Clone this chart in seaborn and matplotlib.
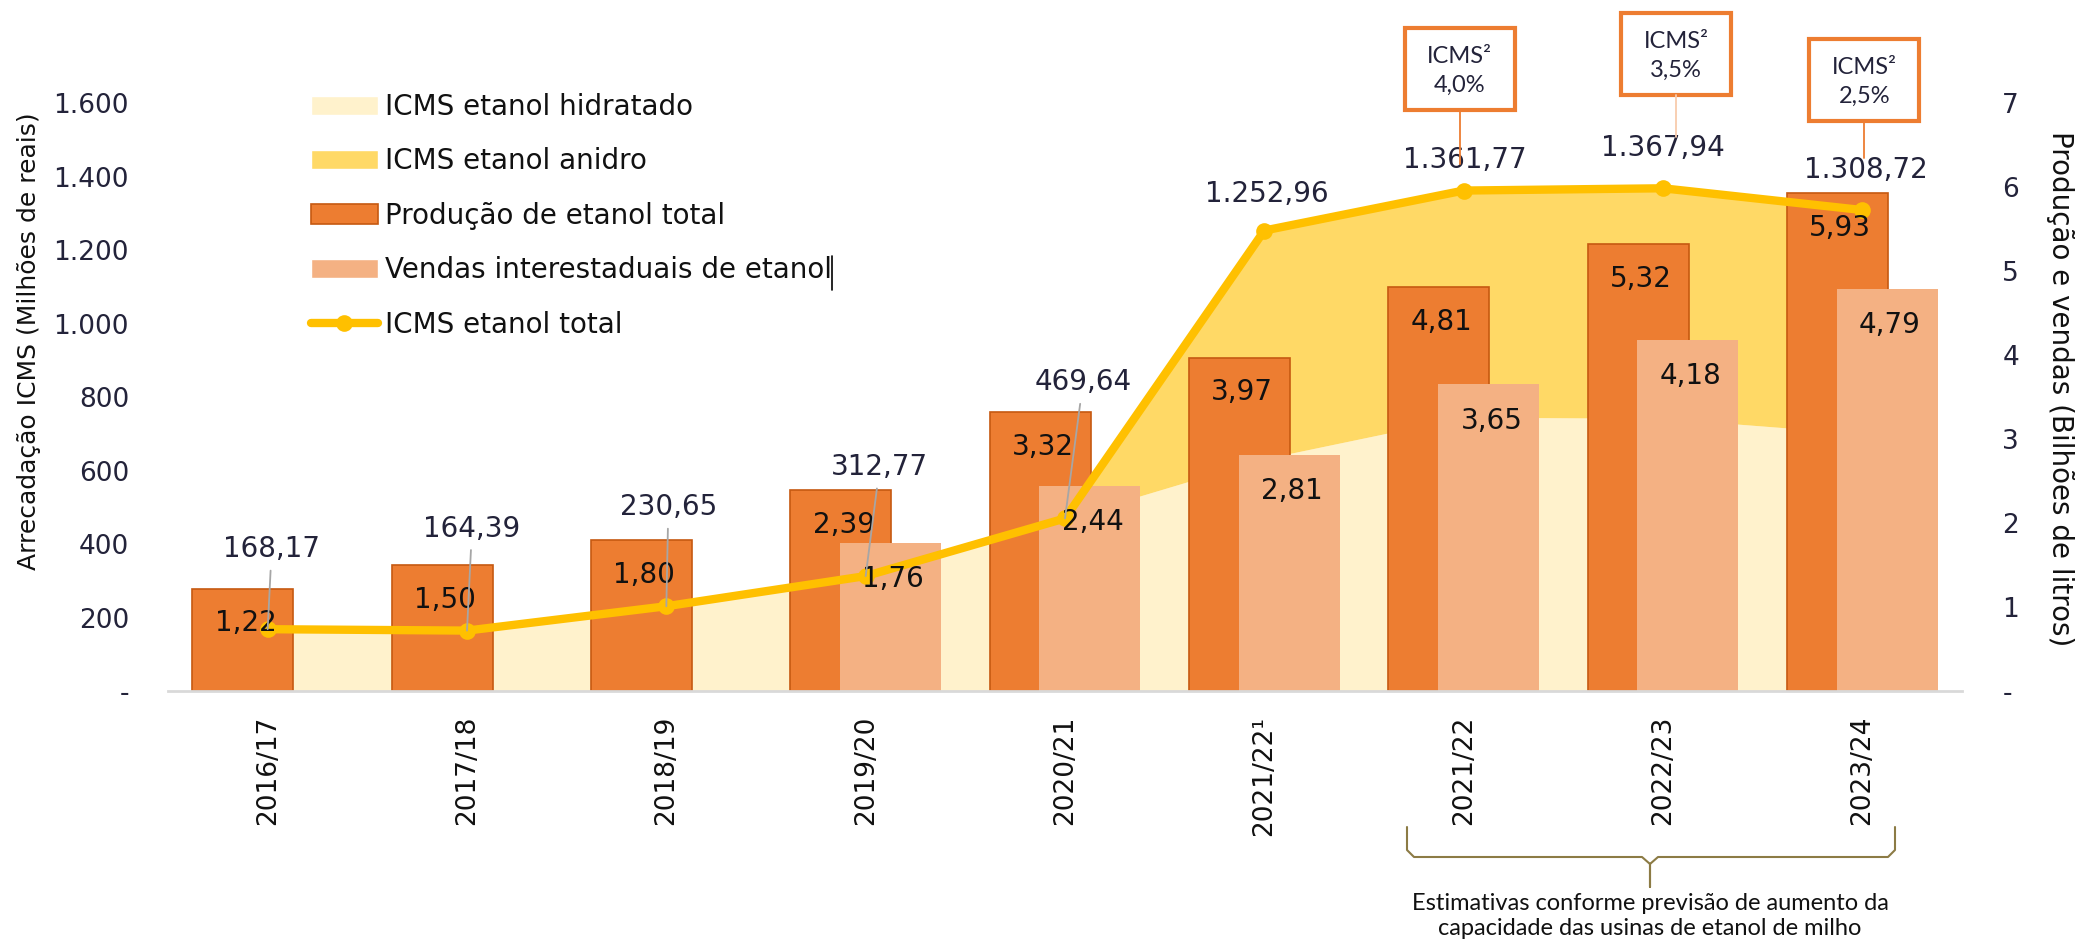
import numpy as np
import matplotlib
matplotlib.use('Agg')
import matplotlib.pyplot as plt
import seaborn as sns
from matplotlib.patches import Patch, Rectangle
from matplotlib.lines import Line2D
from matplotlib.transforms import IdentityTransform

# Dados
safras = ['2016/17', '2017/18', '2018/19', '2019/20', '2020/21',
          '2021/22¹', '2021/22', '2022/23', '2023/24']
icms_total = [168.17, 164.39, 230.65, 312.77, 469.64, 1252.96, 1361.77, 1367.94, 1308.72]
icms_hidratado = [168.17, 164.39, 230.65, 312.77, 469.64, 632, 745, 742, 700]
icms_anidro = [0, 0, 0, 0, 0, 620.96, 616.77, 625.94, 608.72]
producao = [1.22, 1.50, 1.80, 2.39, 3.32, 3.97, 4.81, 5.32, 5.93]
vendas_inicio = 3  # vendas interestaduais a partir de 2019/20
vendas = [1.76, 2.44, 2.81, 3.65, 4.18, 4.79]
aliquotas = ['4,0%', '3,5%', '2,5%']

# Cores
c_hidratado = '#FFF2CC'
c_anidro = '#FFD966'
c_producao = '#ED7D31'
c_producao_borda = '#C65911'
c_vendas = '#F4B183'
c_linha = '#FFC000'
c_texto = '#23233a'


def br(v, casas=2):
    s = f'{v:,.{casas}f}'
    return s.replace(',', '#').replace('.', ',').replace('#', '.')


sns.set_theme(style='white')
plt.rcParams['font.family'] = ['DejaVu Sans']

W, H = 2078, 941
fig = plt.figure(figsize=(W / 100, H / 100), dpi=100)
ax = fig.add_axes([168 / W, 1 - 691 / H, 1794 / W, 588 / H])
ax_bar = ax.twinx()
ax_line = ax.twinx()

x = np.arange(len(safras))

# Áreas (ICMS hidratado + anidro)
ax.stackplot(x, icms_hidratado, icms_anidro, colors=[c_hidratado, c_anidro], lw=0)

# Barras (produção e vendas)
largura = 0.507
ax_bar.bar(x - 0.125, producao, width=largura, color=c_producao,
           edgecolor=c_producao_borda, linewidth=1.2)
xv = x[vendas_inicio:]
ax_bar.bar(xv + 0.125, vendas, width=largura, color=c_vendas, linewidth=0)

# Linha ICMS total
sns.lineplot(x=x, y=icms_total, ax=ax_line, color=c_linha, lw=6,
             marker='o', markersize=12, markeredgewidth=0)

ax.set_ylim(0, 1600)
ax_line.set_ylim(0, 1600)
ax_bar.set_ylim(0, 7)
ax.set_xlim(-0.5, 8.5)

# Eixos
for a in (ax, ax_bar, ax_line):
    for s in a.spines.values():
        s.set_visible(False)
ax_line.spines['bottom'].set_visible(True)
ax_line.spines['bottom'].set_color('#D9D9D9')
ax_line.spines['bottom'].set_linewidth(2)
ax_line.yaxis.set_visible(False)
ax_line.set_xlabel('')
ax_line.set_ylabel('')

ax.set_yticks(range(0, 1601, 200))
ax.set_yticklabels(['-' if v == 0 else br(v, 0) for v in range(0, 1601, 200)])
ax.tick_params(axis='y', length=0, labelsize=19, pad=28, colors=c_texto)
ax_bar.set_yticks(range(0, 8))
ax_bar.set_yticklabels(['-' if v == 0 else str(v) for v in range(0, 8)])
ax_bar.tick_params(axis='y', length=0, labelsize=19, pad=29, colors=c_texto)

ax.set_xticks(x)
ax.set_xticklabels(safras, rotation=90, fontsize=19, color='#111111')
ax.tick_params(axis='x', length=0, pad=18)

ax.set_ylabel('Arrecadação ICMS (Milhões de reais)', fontsize=18,
              color='#111111', va='center', ha='center')
ax.yaxis.set_label_coords(-0.0775, 0.595)
ax_bar.set_ylabel('Produção e vendas (Bilhões de litros)', fontsize=20,
                  color='#111111', rotation=270, va='center', ha='center')
ax_bar.yaxis.set_label_coords(1.0546, 0.515)

# Rótulos das barras
for xi, v in zip(x, producao):
    ax_line.annotate(br(v), xy=(xi - 0.125, v), xycoords=ax_bar.transData,
                     xytext=(2, -25), textcoords='offset points',
                     ha='center', va='center', fontsize=20, color='#111111', zorder=6)
for xi, v in zip(xv, vendas):
    ax_line.annotate(br(v), xy=(xi + 0.125, v), xycoords=ax_bar.transData,
                     xytext=(2, -26), textcoords='offset points',
                     ha='center', va='center', fontsize=20, color='#111111', zorder=6)

# Rótulos da linha (deslocamentos em pixels)
desloc = [(4, 80), (5, 102), (2, 99), (14, 109), (18, 136),
          (2, 37), (1, 31), (0, 40), (4, 40)]
for i, (v, (dx, dy)) in enumerate(zip(icms_total, desloc)):
    props = None
    if i < 5:
        props = dict(arrowstyle='-', color='#A6A6A6', lw=1.3, shrinkA=3, shrinkB=0)
    ax_line.annotate(br(v), xy=(i, v), xytext=(dx * 0.72, dy * 0.72),
                     textcoords='offset points', ha='center', va='center',
                     fontsize=20, color=c_texto, arrowprops=props, zorder=7)

# Caixas ICMS²
caixas = [(-4, 122, 54, c_producao), (13, 134, 42, '#F8CBAD'), (2, 130, 37, c_producao)]
for j, (al, (dx, dy, lead, cl)) in enumerate(zip(aliquotas, caixas)):
    i = 6 + j
    px, py = ax_line.transData.transform((i, icms_total[i]))
    cx, cy = px + dx, py + dy
    bw, bh = 110, 82
    fig.add_artist(Line2D([cx, cx], [cy - bh / 2, cy - bh / 2 - lead],
                          transform=IdentityTransform(), color=cl, lw=1.3))
    fig.add_artist(Rectangle((cx - bw / 2, cy - bh / 2), bw, bh, transform=IdentityTransform(),
                             facecolor='white', edgecolor=c_producao, lw=3))
    fig.text(cx, cy - 2, f'ICMS²\n{al}', transform=IdentityTransform(), ha='center',
             va='center', fontsize=17, family=['Lato', 'DejaVu Sans'],
             linespacing=1.45, color=c_texto)

# Chave das estimativas
yb = lambda y: H - y
bx = [1407, 1407, 1414, 1642, 1650, 1650, 1650, 1658, 1888, 1895, 1895]
by = [827, 850, 857, 857, 864, 887, 864, 857, 857, 850, 827]
fig.add_artist(Line2D(bx, [yb(v) for v in by], transform=IdentityTransform(),
                      color='#8C7B45', lw=1.5))
fig.text(1650, yb(916), 'Estimativas conforme previsão de aumento da\n'
         'capacidade das usinas de etanol de milho',
         transform=IdentityTransform(), ha='center', va='center', fontsize=17,
         family=['Lato', 'DejaVu Sans'], linespacing=1.2, color='#111111')

# Legenda
handles = [Patch(fc=c_hidratado), Patch(fc=c_anidro),
           Patch(fc=c_producao, ec=c_producao_borda, lw=1.2), Patch(fc=c_vendas),
           Line2D([], [], color=c_linha, lw=6, marker='o', markersize=12, markeredgewidth=0)]
labels = ['ICMS etanol hidratado', 'ICMS etanol anidro', 'Produção de etanol total',
          'Vendas interestaduais de etanol', 'ICMS etanol total']
leg = fig.legend(handles, labels, loc='upper left', bbox_to_anchor=(311 / W, 1 - 93 / H),
                 frameon=False, fontsize=20, handlelength=2.4, handleheight=0.7,
                 labelspacing=0.95, handletextpad=0.25, borderpad=0, borderaxespad=0)
for t in leg.get_texts():
    t.set_color('#111111')
fig.add_artist(Line2D([832, 832], [yb(256), yb(290)], transform=IdentityTransform(),
                      color='black', lw=1.2))

fig.savefig('out.png', dpi=100)
